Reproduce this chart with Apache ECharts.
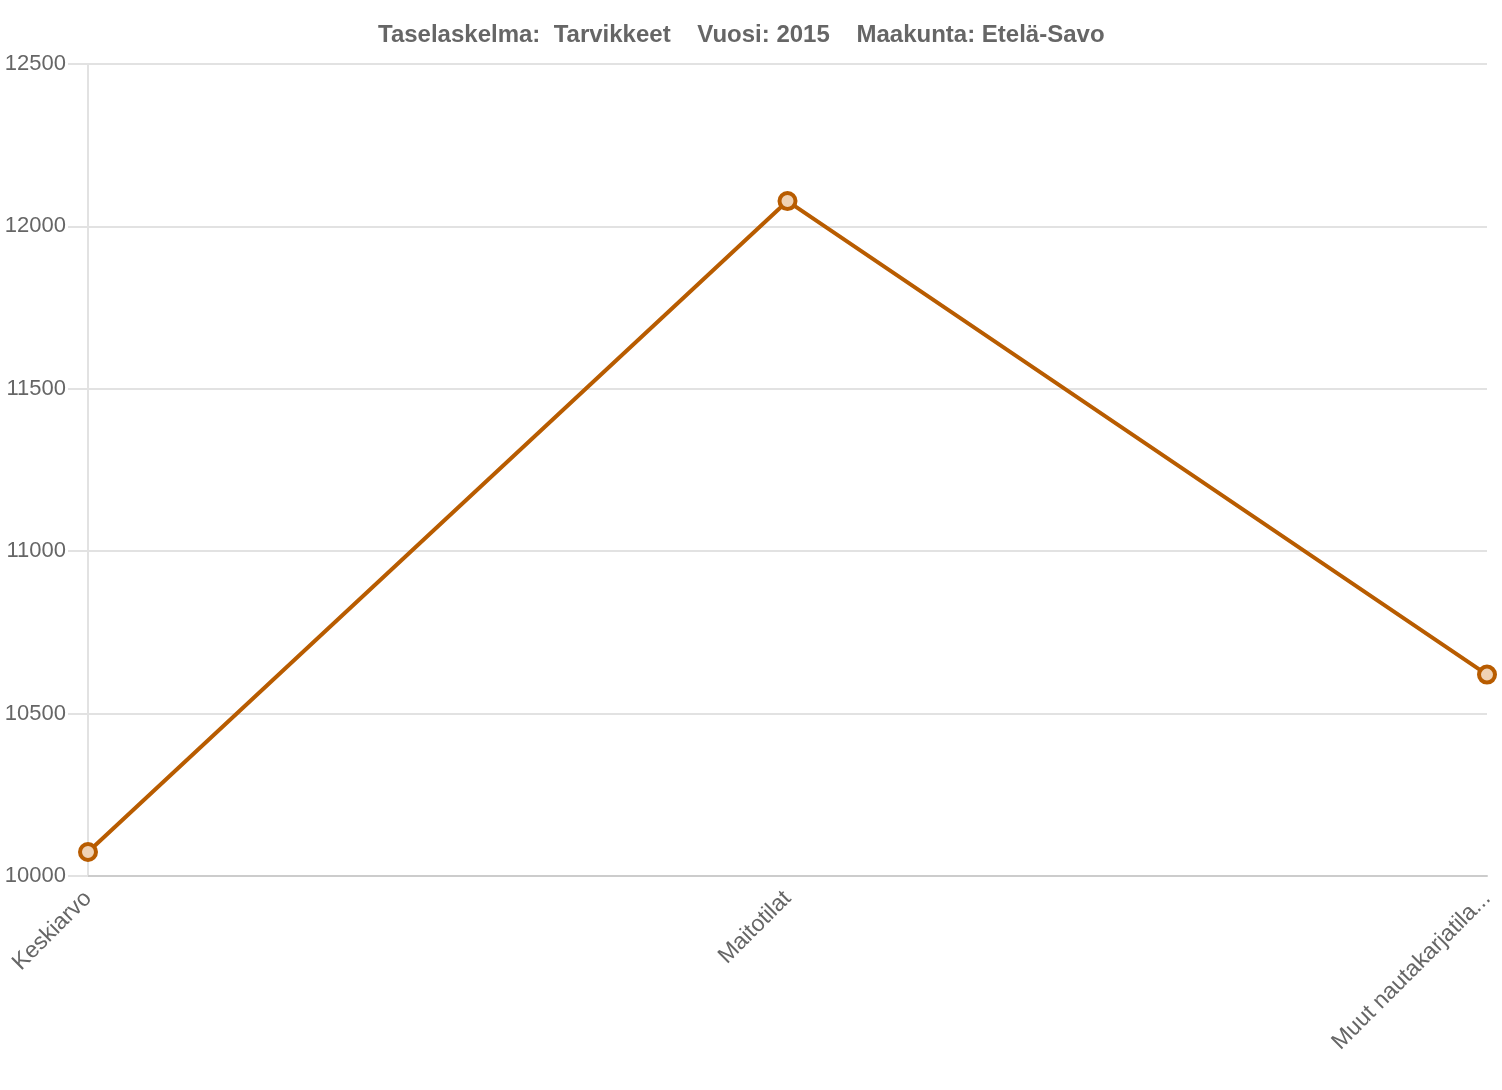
<!DOCTYPE html>
<html>
<head>
<meta charset="utf-8">
<script src="https://cdn.jsdelivr.net/npm/echarts@6/dist/echarts.min.js"></script>
<style>html,body{margin:0;padding:0;background:#fff}#c{width:1502px;height:1090px}</style>
</head>
<body>
<div id="c"></div>
<script>
const titleText = 'Taselaskelma:  Tarvikkeet    Vuosi: 2015    Maakunta: Etelä-Savo';
const categories = ['Keskiarvo', 'Maitotilat', 'Muut nautakarjatilat'];
const values = [10074, 12078, 10620];
const yTicks = [10000, 10500, 11000, 11500, 12000, 12500];

const chart = echarts.init(document.getElementById('c'));
chart.setOption({
  animation: false,
  title: {
    text: titleText,
    left: 373, top: 18,
    textStyle: { fontFamily: 'Liberation Sans, Arial, sans-serif', fontSize: 24, fontWeight: 'bold', color: '#666' }
  },
  grid: { left: 88, right: 15, top: 64, bottom: 214, containLabel: false },
  xAxis: {
    type: 'category',
    data: categories,
    boundaryGap: false,
    axisLine: { lineStyle: { color: '#ccc', width: 2 } },
    axisTick: { show: false },
    axisLabel: {
      rotate: 45, fontSize: 23, color: '#666', margin: 19,
      fontFamily: 'Liberation Sans, Arial, sans-serif',
      formatter: function (v) { return v.length > 19 ? v.slice(0, 19) + '...' : v; }
    },
    splitLine: { show: false }
  },
  yAxis: {
    type: 'value',
    min: yTicks[0], max: yTicks[yTicks.length - 1], interval: 500,
    axisLine: { show: true, lineStyle: { color: '#e2e2e2', width: 2 } },
    axisTick: { show: true, length: 20, lineStyle: { color: '#e2e2e2', width: 2 } },
    axisLabel: { fontSize: 22, color: '#666', margin: 22, fontFamily: 'Liberation Sans, Arial, sans-serif',
      formatter: function (v) { return String(v); } },
    splitLine: { lineStyle: { color: '#e2e2e2', width: 2 } }
  },
  series: [{
    type: 'line',
    data: values,
    symbol: 'circle',
    symbolSize: 16,
    lineStyle: { color: '#b85c00', width: 4 },
    itemStyle: { color: '#f0d2b4', borderColor: '#b85c00', borderWidth: 4 }
  }]
});
</script>
</body>
</html>
